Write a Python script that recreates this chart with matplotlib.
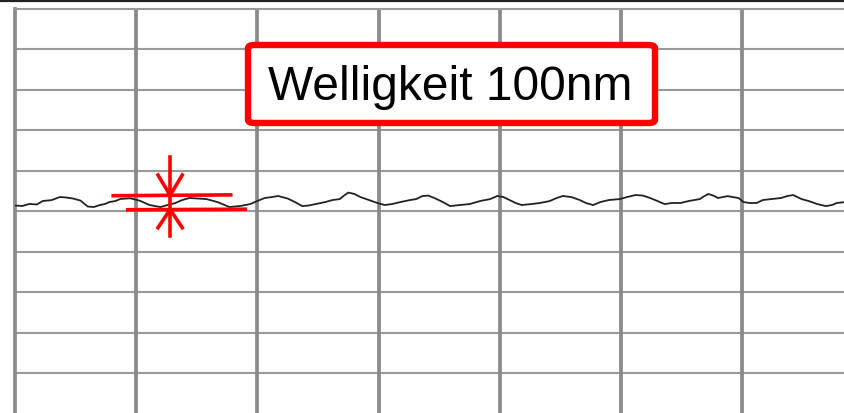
import matplotlib
matplotlib.use("Agg")
import matplotlib.pyplot as plt
from matplotlib.patches import FancyBboxPatch
from matplotlib.lines import Line2D

# profile: position (um) and height (nm)
pos_um = [0, 6, 12, 18, 23, 30, 37, 42, 48, 54, 60, 65, 70, 74, 78, 83, 87, 95,
          103, 111, 120, 126, 132, 138, 144, 151, 158, 167, 177, 186, 194, 200,
          206, 212, 217, 225, 231, 237, 242, 248, 256, 262, 268, 271, 275, 280,
          285, 292, 299, 305, 311, 318, 326, 331, 336, 341, 347, 353, 359, 367,
          375, 384, 392, 398, 403, 408, 413, 418, 426, 433, 441, 447, 452, 459,
          466, 471, 477, 483, 490, 499, 505, 512, 518, 524, 530, 536, 542, 549,
          556, 565, 568, 572, 576, 580, 584, 588, 592, 597, 601, 606, 612, 617,
          624, 632, 637, 642, 649, 655, 662, 669, 674, 678, 685]
height_nm = [44, 41, 56, 52, 78, 84, 107, 104, 96, 81, 37, 33, 48, 55, 70, 78, 93, 98,
             80, 48, 33, 48, 62, 85, 100, 96, 92, 70, 33, 41, 55, 78,
             100, 107, 115, 96, 70, 40, 44, 55, 70, 85, 92, 115, 140, 130,
             107, 85, 63, 48, 55, 70, 85, 92, 114, 118, 96, 70, 40, 48,
             55, 78, 92, 115, 107, 85, 63, 48, 55, 63, 77, 100, 115, 107,
             85, 63, 48, 70, 85, 92, 107, 122, 118, 100, 78, 55, 63, 63,
             78, 92, 110, 130, 118, 100, 107, 114, 107, 100, 70, 63, 63, 85,
             92, 100, 114, 122, 92, 77, 55, 40, 48, 63, 70]

# grid divisions
x_div_um = 100
y_div_nm = 300
x_range = (0, 684.8)
y_range = (-1492.6, 1500)

label = "Welligkeit 100nm"

fig = plt.figure(figsize=(8.45, 4.14), dpi=100)
ax = fig.add_axes([15 / 845, 0, 830 / 845, 404 / 414])
ax.set_xlim(*x_range)
ax.set_ylim(*y_range)

# horizontal grid
y = y_range[1] - y_div_nm
while y > y_range[0]:
    ax.axhline(y, color="#9a9a9a", lw=1.5, zorder=1)
    y -= y_div_nm
# vertical grid
x = x_div_um
while x < x_range[1]:
    ax.axvline(x, color="#8a8a8a", lw=2.7, zorder=2)
    x += x_div_um

for s in ["right", "bottom"]:
    ax.spines[s].set_visible(False)
ax.spines["left"].set_color("#8a8a8a")
ax.spines["left"].set_linewidth(2.7)
ax.spines["top"].set_color("#9a9a9a")
ax.spines["top"].set_linewidth(1.5)
ax.set_xticks([])
ax.set_yticks([])

ax.plot(pos_um, height_nm, color="#222222", lw=1.3, zorder=3)

# waviness marker (red)
red = "#ff0000"
top_nm, bot_nm = 120, 15
ax.plot([81, 178], [top_nm - 3, top_nm + 3], color=red, lw=2.6, zorder=4)
ax.plot([93, 190], [bot_nm - 2, bot_nm + 2], color=red, lw=2.6, zorder=4)
xa = 128
ax.plot([xa, xa], [top_nm + 280, bot_nm - 200], color=red, lw=2.6, zorder=4)
ax.plot([xa - 10, xa, xa + 10], [top_nm + 150, top_nm, top_nm + 150], color=red, lw=2.6, zorder=4)
ax.plot([xa - 10, xa, xa + 10], [bot_nm - 135, bot_nm, bot_nm - 135], color=red, lw=2.6, zorder=4)

# label box
box = FancyBboxPatch((248 / 845, 1 - 124 / 414), 407 / 845, 78 / 414,
                     boxstyle="round,pad=0,rounding_size=0.008",
                     transform=fig.transFigure, facecolor="white",
                     edgecolor=red, lw=4.6, zorder=5)
fig.add_artist(box)
fig.text(450 / 845, 1 - 87 / 414, label, ha="center", va="center",
         fontsize=34.5, family="Liberation Sans", color="black", zorder=6)

# top black rule
fig.add_artist(Line2D([0, 1], [1 - 1.5 / 414, 1 - 1.5 / 414],
                      transform=fig.transFigure, color="#222222", lw=1.6))

fig.savefig("out.png", dpi=100)
